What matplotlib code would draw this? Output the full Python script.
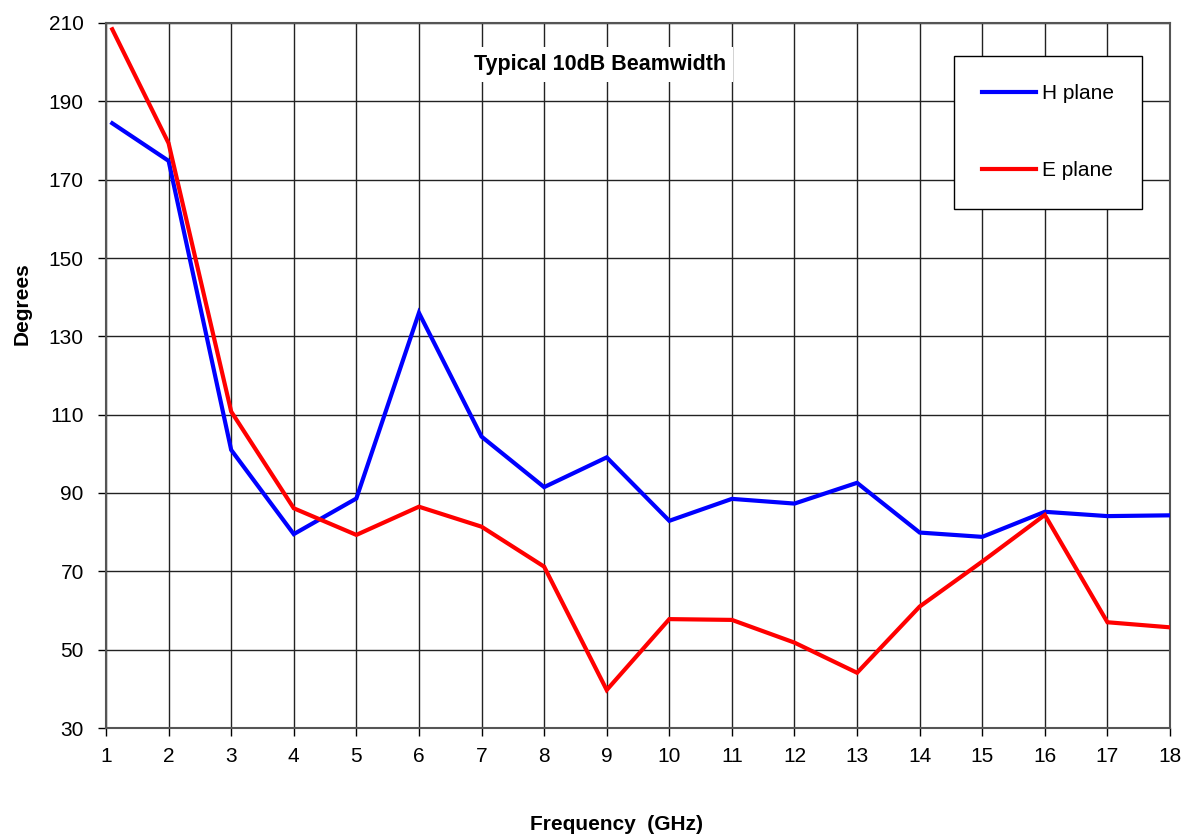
import matplotlib
matplotlib.use("Agg")
import matplotlib.pyplot as plt

freq = [1.1, 2, 3, 4, 5, 6, 7, 8, 9, 10, 11, 12, 13, 14, 15, 16, 17, 18]
h_plane = [184.4, 174.8, 101.0, 79.5, 88.6, 136.0, 104.4, 91.5, 99.1, 82.9, 88.5, 87.3, 92.6, 79.9, 78.8, 85.2, 84.1, 84.3]
e_plane = [208.4, 179.3, 110.8, 86.1, 79.3, 86.5, 81.4, 71.2, 39.7, 57.8, 57.6, 51.8, 44.1, 61.0, 72.5, 84.4, 57.0, 55.7]
x_ticks = list(range(1, 19))
y_ticks = list(range(30, 211, 20))

plt.rcParams['font.family'] = ['Liberation Sans', 'DejaVu Sans']

W, H = 1186, 839
fig = plt.figure(figsize=(W / 100, H / 100), dpi=100)
ax = fig.add_axes([106/W, 1 - 728/H, (1170-106)/W, (728-23)/H])

ax.plot(freq, h_plane, color='#0000ff', lw=3, label='H plane', solid_joinstyle='miter', zorder=3)
ax.plot(freq, e_plane, color='#ff0000', lw=3, label='E plane', solid_joinstyle='miter', zorder=3)

ax.set_xlim(1, 18)
ax.set_ylim(30, 210)
ax.set_xticks(x_ticks)
ax.set_yticks(y_ticks)
ax.grid(True, color='#222222', lw=1.0)
ax.set_axisbelow(True)
for s in ax.spines.values():
    s.set_color('#555555')
    s.set_linewidth(1.5)
ax.tick_params(direction='out', length=6, width=1, colors='black', labelsize=15)
ax.tick_params(axis='x', pad=8)
ax.tick_params(axis='y', pad=10)

fig.text(616/W, 1 - 824/H, 'Frequency  (GHz)', fontsize=15, fontweight='bold', ha='center', va='center')
fig.text(22/W, 1 - 304/H, 'Degrees', fontsize=15, fontweight='bold', ha='center', va='center', rotation=90)

ax.text(8.9, 199.5, 'Typical 10dB Beamwidth', fontsize=15.5, fontweight='bold', ha='center', va='center',
        bbox=dict(facecolor='white', edgecolor='none', pad=5), zorder=4)

leg = ax.legend(loc='upper left', bbox_to_anchor=((954-106)/1064, 1 - (56-23)/705), fontsize=15,
                frameon=True, fancybox=False, edgecolor='black', framealpha=1, borderpad=1.35,
                labelspacing=2.8, handlelength=2.6, handletextpad=0.25, borderaxespad=0)
leg.get_frame().set_linewidth(1)
leg.set_zorder(5)

fig.savefig('out.png', dpi=100, facecolor='white')
